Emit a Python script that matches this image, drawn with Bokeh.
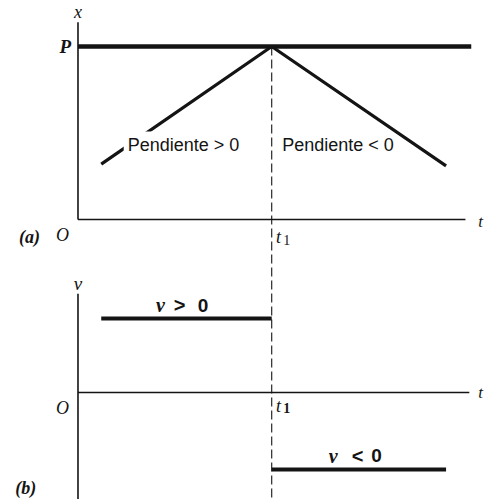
from bokeh.plotting import figure
from bokeh.models import Range1d
from bokeh.core.properties import value
from bokeh.embed import file_html
from bokeh.resources import INLINE

# --- data -------------------------------------------------------------
T1 = 1.0                      # instant of the turn-around
P = 1.0                       # farthest position reached

# (a) position vs time
pos_t = [0.12, 1.0, 1.90]
pos_x = [0.32, 1.0, 0.31]
x_axis_top = 1.14             # top of the x axis
t_axis_end_a = 2.00           # right end of the t axis in (a)
p_line_end = 2.03             # right end of the line x = P

# (b) velocity vs time
vel_pos_t = [0.12, 1.0]
vel_pos = 0.78
vel_neg_t = [1.0, 1.90]
vel_neg = -0.81
v_axis_top = 1.04
t_axis_end_b = 2.02

INK = "#141414"
SERIF = value("Liberation Serif")
SANS = value("Liberation Sans")

p = figure(width=494, height=499,
           x_range=Range1d(-0.40, 2.15),
           y_range=Range1d(-1.618, 1.266),
           x_axis_location=None, y_axis_location=None,
           toolbar_location=None, output_backend="svg",
           min_border=0, outline_line_color=None,
           background_fill_color="white", border_fill_color="white")
p.extra_y_ranges = {"v": Range1d(-1.126, 4.126)}
p.grid.visible = False

# ---------------- panel (a) ----------------
p.line([0, 0], [0, x_axis_top], line_color=INK, line_width=1.6)
p.line([0, t_axis_end_a], [0, 0], line_color=INK, line_width=1.6)
p.line([0, p_line_end], [P, P], line_color=INK, line_width=4.5)
p.line(pos_t, pos_x, line_color=INK, line_width=3.2)

# dashed guide at t1 running through both panels
p.line([T1, T1], [P, -1.618], line_color=INK, line_width=1.1, line_dash="9 4")

p.text(x=[0.236], y=[0.428], text=["Pendiente > 0"], text_font=SANS,
       text_font_size="18px", text_color=INK, text_align="left",
       text_baseline="middle", background_fill_color="white", padding=4)
p.text(x=[1.054], y=[0.428], text=["Pendiente < 0"], text_font=SANS,
       text_font_size="18px", text_color=INK, text_align="left",
       text_baseline="middle")

def label(t, y, s, size="17px", style="italic", font=SERIF, y_range_name="default"):
    p.text(x=[t], y=[y], text=[s], text_font=font, text_font_size=size,
           text_font_style=style, text_color=INK, text_align="center",
           text_baseline="middle", y_range_name=y_range_name)

label(0.0, 1.20, "x", size="18px")
label(-0.065, P, "P", size="19px", style="bold italic")
label(-0.08, -0.092, "O", size="18px")
label(-0.25, -0.098, "(a)", size="18px", style="bold italic")
label(2.078, -0.012, "t", size="17px")
label(1.035, -0.10, "t", size="18px")
label(1.077, -0.12, "1", size="14px", style="normal")

# ---------------- panel (b) ----------------
p.line([0, 0], [-1.126, v_axis_top], line_color=INK, line_width=1.6, y_range_name="v")
p.line([0, t_axis_end_b], [0, 0], line_color=INK, line_width=1.6, y_range_name="v")
p.line(vel_pos_t, [vel_pos, vel_pos], line_color=INK, line_width=4, y_range_name="v")
p.line(vel_neg_t, [vel_neg, vel_neg], line_color=INK, line_width=4, y_range_name="v")

label(0.0, 1.147, "v", size="19px", y_range_name="v")
label(-0.08, -0.158, "O", size="18px", y_range_name="v")
label(2.078, 0.0, "t", size="17px", y_range_name="v")
label(1.035, -0.137, "t", size="18px", y_range_name="v")
label(1.077, -0.16, "1", size="14px", style="bold", y_range_name="v")
label(-0.27, -1.01, "(b)", size="18px", style="bold italic", y_range_name="v")

# "v > 0" and "v < 0"
label(0.426, 0.916, "v", size="20px", style="bold italic", y_range_name="v")
label(0.524, 0.916, ">", size="20px", style="bold", font=SANS, y_range_name="v")
label(0.645, 0.916, "0", size="19px", style="bold", font=SANS, y_range_name="v")
label(1.317, -0.663, "v", size="20px", style="bold italic", y_range_name="v")
label(1.443, -0.663, "<", size="20px", style="bold", font=SANS, y_range_name="v")
label(1.541, -0.663, "0", size="19px", style="bold", font=SANS, y_range_name="v")

open("out.html", "w").write(file_html(p, INLINE))
